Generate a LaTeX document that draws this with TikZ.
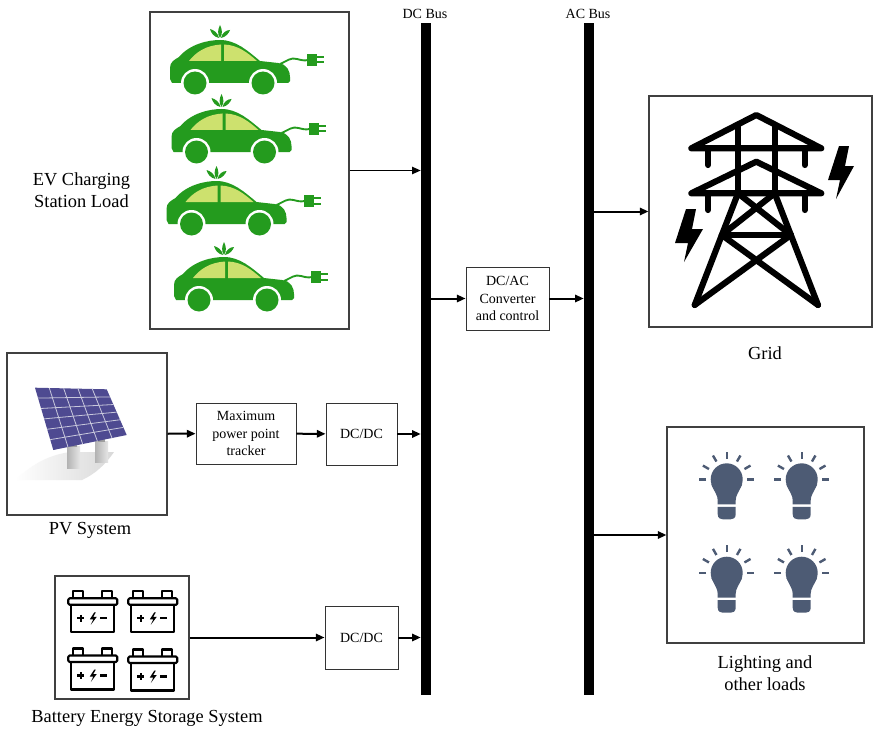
\documentclass[tikz,border=0pt]{standalone}
\usepackage{fontspec}
\setmainfont{Liberation Serif}
\usetikzlibrary{arrows.meta,calc}
\definecolor{cargreen}{RGB}{36,155,30}
\definecolor{carlight}{RGB}{205,225,110}
\definecolor{bulbc}{RGB}{77,91,116}
\definecolor{panelc}{RGB}{78,74,145}
\definecolor{panelgrid}{RGB}{200,200,220}

\tikzset{
  boxsize/.style 2 args={minimum width=#1*0.75pt, minimum height=#2*0.75pt},
  frame/.style={draw=black!75, line width=0.8pt, fill=white, inner sep=0pt},
  blockbox/.style={draw=black!80, line width=0.7pt, fill=white, inner sep=0pt,
    align=center, font=\fontsize{10.5}{13}\selectfont},
  busbar/.style={fill=black, inner sep=0pt},
  label/.style={align=center, font=\fontsize{13.8}{16.5}\selectfont, inner sep=0pt},
  buslabel/.style={font=\fontsize{10.5}{13}\selectfont, inner sep=0pt},
  arr/.style={line width=1.5pt, -{Triangle[length=6.5pt,width=5.5pt]}},
  thinarr/.style={line width=1pt, -{Triangle[length=6.5pt,width=5.5pt]}},
  % electric car with a plug cable
  car/.pic={
    \fill[cargreen] (0,-3) -- (0,-14) .. controls (0,-20) and (4,-22) .. (9,-25)
      .. controls (20,-38) and (38,-42) .. (50,-42)
      .. controls (66,-42) and (78,-31) .. (90,-21) -- (108,-19)
      .. controls (117,-18) and (120,-11) .. (120,-5) -- (120,-1) -- (118,1) -- (2,1) -- cycle;
    \fill[carlight] (19,-21) .. controls (26,-30) and (36,-36.5) .. (51,-37.5) -- (51,-21) -- cycle;
    \fill[carlight] (54,-37.5) .. controls (68,-37) and (78,-29) .. (87,-21) -- (54,-21) -- cycle;
    \fill[white] (25,1) circle (14);
    \fill[cargreen] (25,1) circle (11.5);
    \fill[white] (93,1) circle (14);
    \fill[cargreen] (93,1) circle (11.5);
    \fill[cargreen] (50,-44) .. controls (47,-48) and (48,-53) .. (50,-57)
      .. controls (52,-53) and (53,-48) .. (50,-44) -- cycle;
    \fill[cargreen] (49,-44) .. controls (44,-45) and (41,-49) .. (40,-53)
      .. controls (44,-52) and (48,-49) .. (49,-44) -- cycle;
    \fill[cargreen] (51,-44) .. controls (56,-45) and (59,-49) .. (60,-52)
      .. controls (56,-52) and (52,-49) .. (51,-44) -- cycle;
    \draw[cargreen, line width=1.4pt] (110,-18) .. controls (117,-21) and (121,-25) .. (127,-23)
      .. controls (131,-22) and (134,-21) .. (138,-22);
    \fill[cargreen] (137,-28) rectangle (147,-16);
    \fill[cargreen] (147,-26) rectangle (154,-24);
    \fill[cargreen] (147,-20.5) rectangle (154,-18.5);
  },
  % light bulb with rays
  bulb/.pic={
    \fill[bulbc] (0,0) circle (16);
    \fill[bulbc] (-15.5,5) .. controls (-12,13) and (-9,16) .. (-9,21) -- (-9,25) -- (9,25)
      -- (9,21) .. controls (9,16) and (12,13) .. (15.5,5) -- cycle;
    \fill[bulbc] (-9,27.5) -- (9,27.5) -- (9,35) .. controls (9,39) and (6,40) .. (4,40)
      -- (-4,40) .. controls (-6,40) and (-9,39) .. (-9,35) -- cycle;
    \foreach \a in {0,-30,-60,-90,-120,-150,-180}
      \draw[bulbc, line width=1.8pt] (\a:20.5) -- (\a:27.5);
  },
  % battery outline with terminals
  battery/.pic={
    \begin{scope}[line width=1.6pt, line join=round]
      \draw[rounded corners=1pt] (0,0) rectangle (49,6.5);
      \draw (5,0) -- (5,-7) -- (15,-7) -- (15,0);
      \draw (34,0) -- (34,-7) -- (44,-7) -- (44,0);
      \draw (3,6.5) -- (3,34) -- (46,34) -- (46,6.5);
      \draw (9,20) -- (16,20) (12.5,16.5) -- (12.5,23.5);
      \draw (32,20) -- (39,20);
    \end{scope}
    \fill (26,14) -- (21.5,21) -- (25,21) -- (22.5,26.5) -- (28.5,18.5) -- (25,18.5) -- (27.5,14) -- cycle;
  },
}

\begin{document}
\begin{tikzpicture}[x=0.75pt,y=-0.75pt]
\useasboundingbox (0,0) rectangle (873,731);

% buses
\node[busbar, boxsize={10}{672}] (dcbus) at (426,359) {};
\node[busbar, boxsize={10}{672}] (acbus) at (589,359) {};
\node[buslabel] (dclabel) at (425,14) {DC Bus};
\node[buslabel] (aclabel) at (588,14) {AC Bus};

% source and load frames
\node[frame, boxsize={199}{317}] (ev) at (249.5,170.5) {};
\node[frame, boxsize={160}{162}] (pv) at (87,434) {};
\node[frame, boxsize={134}{123}] (bess) at (122,637.5) {};
\node[frame, boxsize={223}{231}] (grid) at (760.5,211.5) {};
\node[frame, boxsize={197}{216}] (light) at (765.5,535) {};

% converter blocks
\node[blockbox, boxsize={100}{61}] (mppt) at (246,433.5) {Maximum\\power point\\tracker};
\node[blockbox, boxsize={71}{62}] (dcdc1) at (361.5,434) {DC/DC};
\node[blockbox, boxsize={73}{63}] (dcdc2) at (361.5,637.5) {DC/DC};
\node[blockbox, boxsize={83}{63}] (dcac) at (507.5,298.5) {DC/AC\\Converter\\and control};

% captions
\node[label] (evlabel) at (81.5,190) {EV Charging\\Station Load};
\node[label] (pvlabel) at (90,530) {PV System};
\node[label] (besslabel) at (147,718) {Battery Energy Storage System};
\node[label] (gridlabel) at (765,353) {Grid};
\node[label] (lightlabel) at (765,673) {Lighting and\\other loads};

% connectors
\draw[thinarr] (ev) -- (ev -| dcbus.west);
\draw[arr] (pv) -- (mppt);
\draw[arr] (mppt) -- (dcdc1);
\draw[arr] (dcdc1) -- (dcdc1 -| dcbus.west);
\draw[arr] (bess) -- (dcdc2);
\draw[arr] (dcdc2) -- (dcdc2 -| dcbus.west);
\draw[arr] (dcac -| dcbus.east) -- (dcac);
\draw[arr] (dcac) -- (dcac -| acbus.west);
\draw[arr] (grid -| acbus.east) -- (grid);
\draw[arr] (light -| acbus.east) -- (light);

% electric cars
\pic at (170,82) {car};
\pic at (171.5,151) {car};
\pic at (166.5,223) {car};
\pic at (174,299) {car};

% solar panel on two posts, with its soft shadow
\shade[left color=white, right color=gray!30] (15,480) .. controls (35,462) and (50,455) .. (70,452)
  -- (114,452) .. controls (105,465) and (95,474) .. (82,480) -- cycle;
\shade[left color=gray!60, right color=gray!20] (67,446) rectangle (80,468);
\shade[left color=gray!60, right color=gray!20] (95,441) rectangle (108,462);
\fill[gray!75] (70,440) rectangle (77,447);
\fill[gray!75] (98,436) rectangle (105,442);
\coordinate (pTL) at (35,387.7);
\coordinate (pTR) at (106.7,389.3);
\coordinate (pBR) at (126.7,435);
\coordinate (pBL) at (53.3,450);
\fill[panelc] (pTL) -- (pTR) -- (pBR) -- (pBL) -- cycle;
\foreach \i in {1,...,4}
  \draw[panelgrid, line width=0.6pt] ($(pTL)!\i/5!(pTR)$) -- ($(pBL)!\i/5!(pBR)$);
\foreach \j in {1,...,5}
  \draw[panelgrid, line width=0.6pt] ($(pTL)!\j/6!(pBL)$) -- ($(pTR)!\j/6!(pBR)$);

% batteries
\pic at (68.3,598.3) {battery};
\pic at (128.3,598.3) {battery};
\pic at (68.3,655.5) {battery};
\pic at (128.3,656.5) {battery};

% transmission tower
\begin{scope}[line width=4.6pt, line cap=round, line join=round]
  \draw (691.3,148.3) -- (756.3,115) -- (821.3,148.3) -- cycle;
  \draw (708,148.3) -- (708,165) (804.7,148.3) -- (804.7,165);
  \draw (691.3,193.3) -- (756.3,161.7) -- (821.3,193.3) -- cycle;
  \draw (708,193.3) -- (708,210) (804.7,193.3) -- (804.7,210);
  \draw (738,124.5) -- (738,193.3) (774.7,124.5) -- (774.7,193.3);
  \draw (738,193.3) -- (694.7,305) (774.7,193.3) -- (818,305);
  \draw (738,193.3) -- (790.9,235) (774.7,193.3) -- (721.8,235);
  \draw (721.8,235) -- (790.9,235);
  \draw (721.8,235) -- (818,305) (790.9,235) -- (694.7,305);
\end{scope}
\fill (839,146) -- (849,146) -- (845,166) -- (854,166) -- (836,199) -- (840,180) -- (828,180) -- cycle;
\fill (686,209) -- (696,209) -- (692,229) -- (703,229) -- (684,262) -- (688,243) -- (675,243) -- cycle;

% light bulbs
\pic at (726.7,479.3) {bulb};
\pic at (801.7,479.3) {bulb};
\pic at (726.7,572.7) {bulb};
\pic at (801.7,572.7) {bulb};
\end{tikzpicture}
\end{document}
